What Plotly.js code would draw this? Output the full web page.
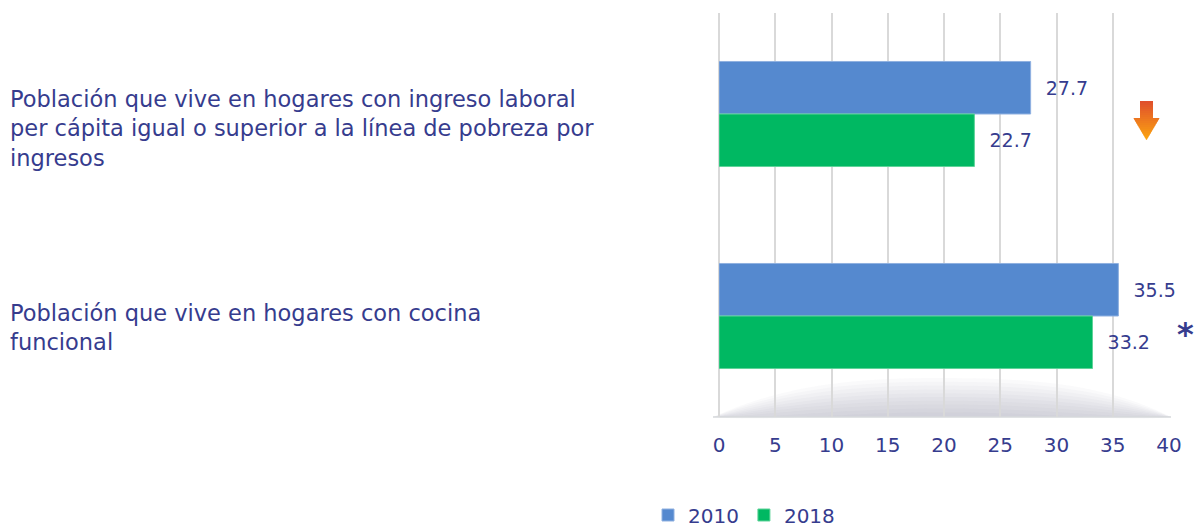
<!DOCTYPE html>
<html>
<head>
<meta charset="utf-8">
<script src="https://cdn.plot.ly/plotly-3.0.1.min.js"></script>
<style>html,body{margin:0;padding:0;background:#fff;}#chart{width:1195px;height:527px;}</style>
</head>
<body>
<div id="chart"></div>
<script>
const categories = [
  "Población que vive en hogares con ingreso laboral<br>per cápita igual o superior a la línea de pobreza por<br>ingresos",
  "Población que vive en hogares con cocina<br>funcional"
];
const catKeys = ["ingreso", "cocina"];
const seriesNames = ["2010", "2018"];
const values2010 = [27.7, 35.5];
const values2018 = [22.7, 33.2];
const tickValues = [0, 5, 10, 15, 20, 25, 30, 35, 40];

const textColor = "#363c8e";
const fontFam = "'DejaVu Sans', 'Noto Sans', sans-serif";

const W = 1195, H = 527;
const L = 719, R = 26, T = 13, B = 110;
const pw = W - L - R, ph = H - T - B;
const px = v => (v - L) / pw;
const py = v => (H - B - v) / ph;

const traces = [
  {
    type: "bar", orientation: "h", name: seriesNames[0],
    y: catKeys, x: values2010,
    marker: {color: "#5589cf", line: {color: "#8fb0e0", width: 1}},
    text: values2010.map(v => v.toFixed(1)),
    texttemplate: "\u00a0\u00a0%{text}",
    textposition: "outside", cliponaxis: false,
    textfont: {size: 19, color: textColor, family: fontFam},
    hoverinfo: "skip"
  },
  {
    type: "bar", orientation: "h", name: seriesNames[1],
    y: catKeys, x: values2018,
    marker: {color: "#00b862", line: {color: "#5fd399", width: 1}},
    text: values2018.map(v => v.toFixed(1)),
    texttemplate: "\u00a0\u00a0%{text}",
    textposition: "outside", cliponaxis: false,
    textfont: {size: 19, color: textColor, family: fontFam},
    hoverinfo: "skip"
  }
];

const labelShift = [-14, -11];
const annotations = categories.map((c, i) => ({
  xref: "paper", yref: "y", x: px(8), y: catKeys[i], yshift: labelShift[i],
  xanchor: "left", yanchor: "middle", align: "left",
  text: c, showarrow: false,
  font: {size: 22.5, color: textColor, family: fontFam}
}));
annotations.push({
  xref: "paper", yref: "paper", x: px(1185), y: py(334),
  xanchor: "center", yanchor: "middle",
  text: "<b>*</b>", showarrow: false,
  font: {size: 32, color: textColor, family: fontFam}
});

// floor shadow layers
const shapes = [];
const nBands = 10;
for (let k = 0; k < nBands; k++) {
  const topY = 378 + k * 3.8;
  const op = 0.035;
  const x0 = L - 6, x1 = L + pw + 2, yb = H - B;
  shapes.push({
    type: "path", xref: "paper", yref: "paper", layer: "below",
    path: `M ${px(x0)} ${py(yb)} C ${px(L + 60)} ${py(topY + 10)} ${px(L + 120)} ${py(topY)} ${px((x0 + x1) / 2)} ${py(topY)} C ${px(x1 - 120)} ${py(topY)} ${px(x1 - 60)} ${py(topY + 10)} ${px(x1)} ${py(yb)} Z`,
    fillcolor: `rgba(110,118,130,${op})`, line: {width: 0}
  });
}
shapes.push({
  type: "line", xref: "paper", yref: "paper", layer: "below",
  x0: px(L - 6), x1: px(L + pw + 2), y0: 0, y1: 0,
  line: {color: "#d6d8db", width: 1.5}
});

// orange down arrow, drawn as horizontal bands to mimic its gradient
const ax = 1146.5, aTop = 101, aNeck = 118, aTip = 140, shaftHW = 6.5, headHW = 13;
const halfW = y => (y <= aNeck ? shaftHW : headHW * (aTip - y) / (aTip - aNeck));
const c0 = [224, 80, 44], c1 = [253, 168, 14];
const step = 2;
for (let y = aTop; y < aTip; y += step) {
  const y2 = Math.min(y + step, aTip);
  const t = (y - aTop) / (aTip - aTop);
  const col = c0.map((v, j) => Math.round(v + (c1[j] - v) * t));
  let pts;
  if (y < aNeck && y2 > aNeck) {
    pts = [[ax - shaftHW, y], [ax + shaftHW, y], [ax + shaftHW, aNeck], [ax + headHW, aNeck],
           [ax + halfW(y2), y2], [ax - halfW(y2), y2], [ax - headHW, aNeck], [ax - shaftHW, aNeck]];
  } else {
    const hw1 = (y === aNeck) ? headHW : halfW(y);
    pts = [[ax - hw1, y], [ax + hw1, y], [ax + halfW(y2), y2], [ax - halfW(y2), y2]];
  }
  shapes.push({
    type: "path", xref: "paper", yref: "paper",
    path: "M " + pts.map(p => `${px(p[0])} ${py(p[1] + (p[1] === y2 && y2 < aTip ? 0.4 : 0))}`).join(" L ") + " Z",
    fillcolor: `rgb(${col.join(",")})`, line: {width: 0}
  });
}

const layout = {
  width: W, height: H,
  margin: {l: L, r: R, t: T, b: B, pad: 0, autoexpand: false},
  paper_bgcolor: "#ffffff", plot_bgcolor: "rgba(0,0,0,0)",
  font: {family: fontFam, color: textColor},
  barmode: "group", bargap: 0.48, bargroupgap: 0,
  showlegend: true,
  legend: {
    orientation: "h", xref: "paper", yref: "paper",
    x: px(744), y: py(515), xanchor: "center", yanchor: "middle",
    font: {size: 20, color: textColor, family: fontFam},
    itemwidth: 30, tracegroupgap: 0, traceorder: "normal"
  },
  xaxis: {
    range: [0, 40], tickvals: tickValues, ticktext: tickValues.map(String),
    showgrid: true, gridcolor: "#d9d9d9", gridwidth: 2,
    zeroline: true, zerolinecolor: "#d9d9d9", zerolinewidth: 2,
    showline: false, ticks: "outside", ticklen: 10, tickcolor: "rgba(0,0,0,0)",
    tickfont: {size: 20, color: textColor, family: fontFam}, fixedrange: true,
    automargin: false
  },
  yaxis: {
    type: "category", categoryorder: "array", categoryarray: catKeys,
    range: [1.5, -0.5], showticklabels: false, showgrid: false,
    zeroline: false, showline: false, ticks: "", fixedrange: true,
    automargin: false
  },
  annotations: annotations,
  shapes: shapes
};

Plotly.newPlot("chart", traces, layout, {displayModeBar: false, staticPlot: true});
</script>
</body>
</html>
